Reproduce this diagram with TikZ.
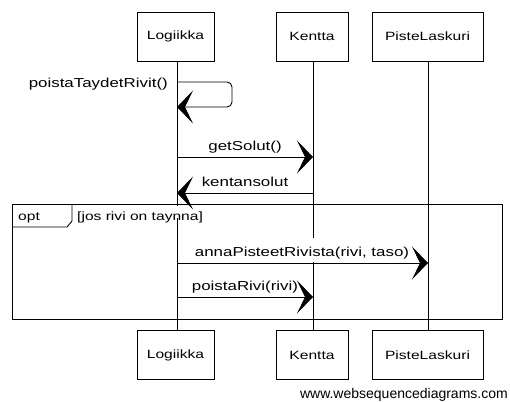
\documentclass[tikz,border=0pt]{standalone}
\usepackage{fontspec}
\setmainfont{Liberation Sans}
\newfontfamily\hand[FakeStretch=1.3]{Liberation Sans}
\usetikzlibrary{arrows.meta}
\tikzset{
  actorbox/.style={draw=black, line width=0.9pt, minimum width=#1, minimum height=49, inner sep=0pt, font=\hand\fontsize{12}{14}\selectfont},
  lifeline/.style={draw=black, line width=0.9pt},
  msg/.style={draw=black, line width=0.9pt, -{Stealth[length=16, width=33, inset=8]}},
  msglabel/.style={font=\hand\fontsize{13}{15}\selectfont, inner sep=0pt, anchor=base},
  frameline/.style={draw=black, line width=0.9pt},
  framelabel/.style={font=\hand\fontsize{12}{14}\selectfont, anchor=base west, inner sep=0pt}
}
\begin{document}
\begin{tikzpicture}[x=1pt,y=-1pt]
\useasboundingbox (0,0) rectangle (510,401);
\fill[white] (0,0) rectangle (510,401);
% participants top
\node[actorbox=77] (lt) at (175.5,36.5) {Logiikka};
\node[actorbox=72] (kt) at (312,36.5) {Kentta};
\node[actorbox=111] (pt) at (427.5,36.5) {PisteLaskuri};
% participants bottom
\node[actorbox=77] (lb) at (175.5,355) {Logiikka};
\node[actorbox=72] (kb) at (312,355) {Kentta};
\node[actorbox=111] (pb) at (427.5,355) {PisteLaskuri};
% lifelines
\coordinate (l0) at (177,61); \coordinate (l1) at (177,330.5);
\coordinate (k0) at (313,61); \coordinate (k1) at (313,330.5);
\coordinate (p0) at (428,61); \coordinate (p1) at (428,330.5);
\draw[lifeline] (l0) -- (l1);
\draw[lifeline] (k0) -- (k1);
\draw[lifeline] (p0) -- (p1);
% label backgrounds (hide lifelines behind texts)
\fill[white] (75,205.5) rectangle (224,218);
\fill[white] (193,238) rectangle (411,262);
% self message
\coordinate (s0) at (177,82);
\coordinate (s1) at (177,107);
\draw[msg, rounded corners=5] (s0) -- (232,82) -- (232,107) -- (s1);
\node[msglabel, anchor=base east] (sl) at (168,88) {poistaTaydetRivit()};
% getSolut
\coordinate (g0) at (177,157); \coordinate (g1) at (313,157);
\draw[msg] (g0) -- (g1);
\node[msglabel] (gl) at (245,150) {getSolut()};
% kentansolut
\coordinate (r0) at (313,193); \coordinate (r1) at (177,193);
\draw[msg] (r0) -- (r1);
\node[msglabel] (rl) at (245,186) {kentansolut};
% opt frame
\coordinate (f0) at (12,204); \coordinate (f1) at (502,319);
\draw[frameline] (f0) rectangle (f1);
\draw[frameline] (12,227) -- (67,227) -- (72,221) -- (72,204);
\node[framelabel] (opt) at (18,220) {opt};
\node[framelabel] (guard) at (77,220) {[jos rivi on taynna]};
% annaPisteetRivista
\coordinate (a0) at (177,263); \coordinate (a1) at (428,263);
\draw[msg] (a0) -- (a1);
\node[msglabel] (al) at (302,256) {annaPisteetRivista(rivi, taso)};
% poistaRivi
\coordinate (q0) at (177,297); \coordinate (q1) at (313,297);
\draw[msg] (q0) -- (q1);
\node[msglabel] (ql) at (245,290) {poistaRivi(rivi)};
% watermark
\node[font=\fontsize{14}{16}\selectfont, anchor=base east, inner sep=0pt] (wm) at (508,398) {www.websequencediagrams.com};
\end{tikzpicture}
\end{document}
